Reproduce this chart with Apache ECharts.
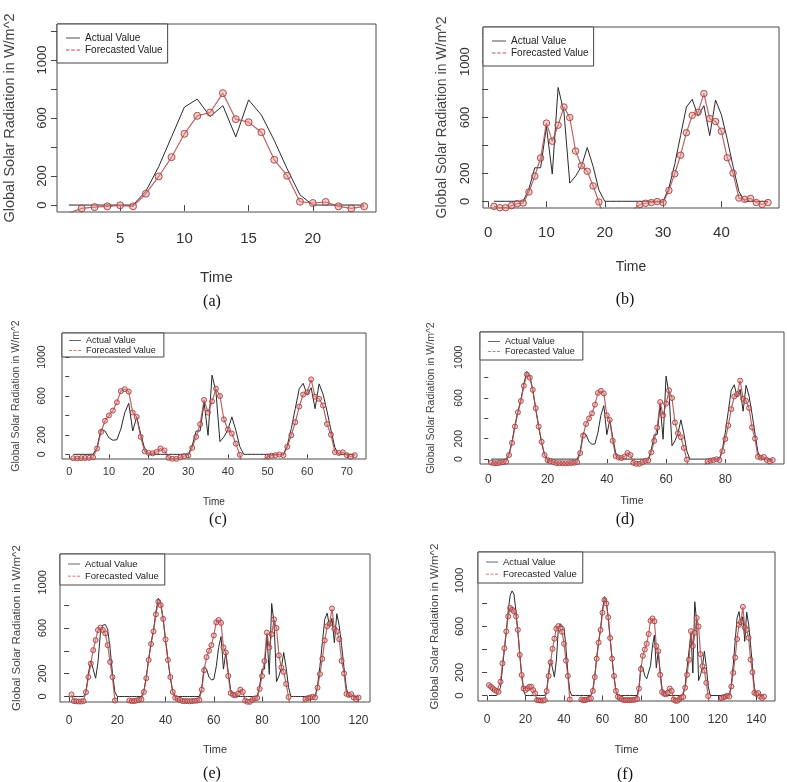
<!DOCTYPE html>
<html><head><meta charset="utf-8">
<script src="https://cdn.jsdelivr.net/npm/echarts@6/dist/echarts.min.js"></script>
<style>html,body{margin:0;padding:0;background:#fff}#c{width:787px;height:782px}</style>
</head><body><div id="c"></div>
<script>
// ---- daily profiles (hour 1..24), W/m^2 ----
const actualA   = [0,0,0,0,0,0,95,265,470,675,730,610,685,470,725,620,445,250,70,0,0,0,0,0];
const forecastA = [-55,-23,-14,-9,-2,-9,78,197,330,491,615,638,771,592,571,502,312,202,23,14,21,-9,-23,-9];
const actualB   = [0,0,0,0,0,0,90,240,240,535,195,815,640,130,180,250,385,250,80,0,0,0,0,0];
const forecastB = [-36,-46,-46,-31,-17,-12,67,180,310,560,430,545,675,600,360,255,215,110,-5,-140,-220,-260,-260,-200];
const actualC   = [0,0,0,0,0,0,70,260,240,170,145,150,260,430,525,240,385,210,60,0,0,0,0,0];
const forecastC = [-40,-42,-40,-38,-36,-30,60,230,345,400,450,535,650,670,645,430,385,180,30,15,10,25,60,40];
const actualD   = [0,0,0,0,0,0,50,170,330,470,580,740,860,820,680,490,320,160,40,0,0,0,0,0];
const forecastD = [-35,-40,-40,-35,-30,-25,40,160,320,460,570,720,830,800,680,500,320,170,40,-10,-20,-30,-40,-40];
const actualE   = [0,0,0,0,0,0,40,200,310,240,160,300,560,625,630,590,420,200,40,0,0,0,0,0];
const forecastE = [18,-40,-42,-44,-44,-40,38,170,288,406,494,582,603,582,553,450,303,170,-35,-120,-150,-160,-150,-120];
const actualF   = [0,0,0,0,0,0,70,240,400,560,740,870,910,880,730,560,360,170,40,0,0,0,0,0];
const forecastF = [90,76,61,47,38,32,120,280,411,557,688,761,746,732,688,571,353,178,61,47,61,76,76,47];

// ---- which days each panel shows ----
const daysPanelA = ['A'];
const daysPanelB = ['B','A'];
const daysPanelC = ['C','B','A'];
const daysPanelD = ['D','C','B','A'];
const daysPanelE = ['E','D','C','B','A'];
const daysPanelF = ['F','E','D','C','B','A'];

// ---- tick labels ----
const xTicksA = [5,10,15,20];
const xTicksB = [0,10,20,30,40];
const xTicksC = [0,10,20,30,40,50,60,70];
const xTicksD = [0,20,40,60,80];
const xTicksE = [0,20,40,60,80,100,120];
const xTicksF = [0,20,40,60,80,100,120,140];
const yTickValues  = [0,200,400,600,800,1000,1200];
const yLabelValues = [0,200,600,1000];
const captions = ['(a)','(b)','(c)','(d)','(e)','(f)'];
const seriesNames = ['Actual Value','Forecasted Value'];
const xTitle = 'Time';
const yTitle = 'Global Solar Radiation in W/m^2';

const actualByDay = {A:actualA,B:actualB,C:actualC,D:actualD,E:actualE,F:actualF};
const forecastByDay = {A:forecastA,B:forecastB,C:forecastC,D:forecastD,E:forecastE,F:forecastF};
const panelDays = [daysPanelA,daysPanelB,daysPanelC,daysPanelD,daysPanelE,daysPanelF];
const panelTicks = [xTicksA,xTicksB,xTicksC,xTicksD,xTicksE,xTicksF];

// ---- layout / style per panel ----
const SANS = "'Liberation Sans',Arial,sans-serif";
const layout = [
 {l:57, t:24, w:319,h:188, xFont:15, yFont:13, yNameFont:14.5, yNameGap:40, timeFont:15, timeGap:58, xMargin:19, yMargin:8, tick:6, legFont:10, legPad:[9,5,8,9], legGap:2, iw:14, sym:7, capX:212, capY:303},
 {l:483,t:27, w:296,h:181, xFont:15, yFont:13, yNameFont:14, yNameGap:34, timeFont:14, timeGap:52, xMargin:17, yMargin:11, tick:6, legFont:10, legPad:[9,5,8,9], legGap:2, iw:14, sym:6.5, capX:625, capY:301},
 {l:62, t:333,w:304,h:126, xFont:11, yFont:10.5, yNameFont:10.5, yNameGap:40, timeFont:10, timeGap:38, xMargin:7, yMargin:14, tick:4, legFont:9, legPad:[3,8,2,7], legGap:1, iw:12, sym:5, capX:218, capY:521},
 {l:480,t:332,w:304,h:132, xFont:12, yFont:10.5, yNameFont:10.5, yNameGap:43, timeFont:10.5, timeGap:32, xMargin:10, yMargin:15, tick:4, legFont:9, legPad:[5,8,4,8], legGap:1, iw:12, sym:5, capX:625, capY:521},
 {l:60, t:554,w:310,h:148, xFont:12, yFont:11, yNameFont:11.5, yNameGap:37, timeFont:11, timeGap:42, xMargin:13, yMargin:12, tick:5, legFont:9.5, legPad:[5,6,4,8], legGap:2, iw:12, sym:5, capX:212, capY:775},
 {l:478,t:552,w:297,h:149, xFont:12, yFont:11.5, yNameFont:11.5, yNameGap:37, timeFont:11, timeGap:43, xMargin:13, yMargin:12, tick:5, legFont:9.5, legPad:[5,6,4,8], legGap:2, iw:12, sym:5, capX:625, capY:776}
];

const grid=[], xAxis=[], yAxis=[], series=[], legend=[], title=[];
panelDays.forEach((days, i) => {
  const L = layout[i];
  const act = [].concat(...days.map(d => actualByDay[d]));
  const fc  = [].concat(...days.map(d => forecastByDay[d]));
  const n = act.length;
  const pad = 0.04 * (n - 1);
  grid.push({left:L.l, top:L.t, width:L.w, height:L.h, show:true, borderColor:'#4a4a4a', borderWidth:1, backgroundColor:'transparent'});
  xAxis.push({type:'value', gridIndex:i, min:1-pad, max:n+pad,
    axisLine:{show:false}, splitLine:{show:false},
    axisTick:{show:true, inside:false, length:L.tick, customValues:panelTicks[i], lineStyle:{color:'#444'}},
    axisLabel:{customValues:panelTicks[i], margin:L.xMargin, fontSize:L.xFont, color:'#333', fontFamily:SANS, formatter:v=>String(v)},
    name:xTitle, nameLocation:'middle', nameGap:L.timeGap,
    nameTextStyle:{fontSize:L.timeFont, color:'#333', fontFamily:SANS}});
  yAxis.push({type:'value', gridIndex:i, min:-48, max:1248,
    axisLine:{show:false}, splitLine:{show:false},
    axisTick:{show:true, inside:false, length:L.tick, customValues:yTickValues, lineStyle:{color:'#444'}},
    axisLabel:{customValues:yLabelValues, rotate:90, margin:L.yMargin, fontSize:L.yFont, color:'#333', fontFamily:SANS, formatter:v=>String(v)},
    name:yTitle, nameLocation:'middle', nameGap:L.yNameGap,
    nameTextStyle:{fontSize:L.yNameFont, color:'#444', fontFamily:SANS}});
  series.push({type:'line', name:seriesNames[0], xAxisIndex:i, yAxisIndex:i,
    data: act.map((v,k)=>[k+1,v]), symbol:'none', silent:true, clip:true,
    lineStyle:{color:'#2a2a2a', width:1}, itemStyle:{color:'#2a2a2a'}, z:2});
  series.push({type:'line', name:seriesNames[1], xAxisIndex:i, yAxisIndex:i,
    data: fc.map((v,k)=>[k+1,v]), symbol:'circle', symbolSize:L.sym, showAllSymbol:true, silent:true, clip:true,
    lineStyle:{color:'rgba(178,72,72,0.85)', width:1.2},
    itemStyle:{color:'rgba(225,150,150,0.45)', borderColor:'rgba(170,60,60,0.9)', borderWidth:1}, z:3});
  legend.push({left:L.l, top:L.t, orient:'vertical', padding:L.legPad, itemGap:L.legGap,
    itemWidth:L.iw, itemHeight:2, borderColor:'#444', borderWidth:1, borderRadius:0, backgroundColor:'#fff',
    selectedMode:false, z:10,
    textStyle:{fontSize:L.legFont, color:'#222', fontFamily:SANS},
    data:[
      {name:seriesNames[0], icon:'path://M0,0H16V1H0Z', itemStyle:{color:'#333', borderWidth:0}},
      {name:seriesNames[1], icon:'path://M0,0H4V1H0ZM6,0H10V1H6ZM12,0H16V1H12Z', itemStyle:{color:'#c0504d', borderWidth:0}}
    ]});
  title.push({text:captions[i], left:L.capX, top:L.capY-9, textAlign:'center', padding:0,
    textStyle:{fontSize:16, fontWeight:'normal', color:'#111', fontFamily:"'Liberation Serif','Times New Roman',serif"}});
});

const chart = echarts.init(document.getElementById('c'), null, {renderer:'canvas'});
chart.setOption({animation:false, backgroundColor:'#fff', title, legend, grid, xAxis, yAxis, series});
</script>
</body></html>
